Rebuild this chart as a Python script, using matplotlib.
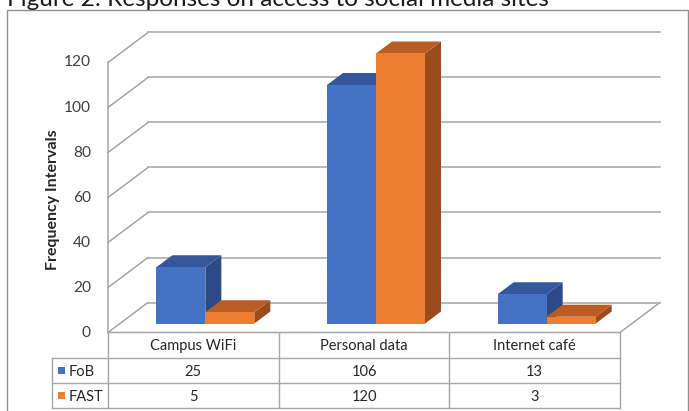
import matplotlib

matplotlib.use("Agg")
import matplotlib.pyplot as plt
from matplotlib.patches import Polygon, Rectangle

categories = ["Campus WiFi", "Personal data", "Internet café"]
series_names = ["FoB", "FAST"]
fob = [25, 106, 13]
fast = [5, 120, 3]
y_ticks = [0, 20, 40, 60, 80, 100, 120]

W, H = 689, 411
FRONT = {"FoB": "#4472C4", "FAST": "#ED7D31"}
TOP = {"FoB": "#34579C", "FAST": "#B95D24"}
SIDE = {"FoB": "#2C4A86", "FAST": "#9A4C1D"}
GRID = "#A6A6A6"

plt.rcParams["font.family"] = ["Lato", "DejaVu Sans"]

fig = plt.figure(figsize=(W / 100, H / 100), dpi=100)
fig.patch.set_facecolor("white")
ax = fig.add_axes([0, 0, 1, 1])
ax.set_axis_off()

# data axes: x in category units, y in value units (0 sits at 332.5 px, 2.25 px per unit)
cat_px, x0_px, unit_px, y0_px = 170.67, 108, 2.25, 332.5
ax.set_xlim(-x0_px / cat_px, (W - x0_px) / cat_px)
ax.set_ylim((y0_px - H) / unit_px, y0_px / unit_px)

DX = 40 / cat_px      # full floor depth, category units
DY = 30 / unit_px     # full floor depth, value units
n = len(categories)


def fpx(x, y):
    """pixel (top-left origin) -> figure fraction"""
    return x / W, 1 - y / H


# back wall and side wall gridlines
for v in y_ticks:
    ax.plot([DX, n + DX], [v + DY, v + DY], color=GRID, lw=1.1, zorder=1)
    ax.plot([0, DX], [v, v + DY], color=GRID, lw=1.1, zorder=1)
    ax.text(-0.1, v, str(v), ha="right", va="center", fontsize=11.2, color="#404040")
ax.plot([0, 0], [0, y_ticks[-1]], color=GRID, lw=1.1, zorder=1)
# floor outline
ax.plot([0, n, n + DX], [0, 0, DY], color=GRID, lw=1.1, zorder=1)

# 3D columns
z0, depth, w = 0.3, 0.4, 49 / cat_px
for s, (name, vals) in enumerate(zip(series_names, [fob, fast])):
    for i, v in enumerate(vals):
        xl = i + 0.5 - w + s * w + z0 * DX
        yb = z0 * DY
        dx, dy = depth * DX, depth * DY
        z = 3 + i * 2 + s * 0.5
        ax.add_patch(Polygon([(xl + w, yb), (xl + w, yb + v), (xl + w + dx, yb + v + dy),
                              (xl + w + dx, yb + dy)], closed=True, fc=SIDE[name], ec="none", zorder=z))
        ax.add_patch(Polygon([(xl, yb + v), (xl + w, yb + v), (xl + w + dx, yb + v + dy),
                              (xl + dx, yb + v + dy)], closed=True, fc=TOP[name], ec="none", zorder=z))
        ax.add_patch(Rectangle((xl, yb), w, v, fc=FRONT[name], ec="none", zorder=z))

ax.text(-0.322, 59, "Frequency Intervals", rotation=90, ha="center", va="center",
        fontsize=11.5, fontweight="bold", color="#262626")

# data table below the floor
col_x = [108 + k * cat_px for k in range(n + 1)]
row_y = [332.5, 358, 383, 408]
tl = dict(color=GRID, lw=1.0, transform=fig.transFigure)
for cx in col_x:
    ax.plot(*zip(fpx(cx, row_y[0]), fpx(cx, row_y[-1])), **tl)
ax.plot(*zip(fpx(52, row_y[1]), fpx(52, row_y[-1])), **tl)
for ry in row_y[1:]:
    ax.plot(*zip(fpx(52, ry), fpx(col_x[-1], ry)), **tl)

for k, cat in enumerate(categories):
    cx = (col_x[k] + col_x[k + 1]) / 2
    fig.text(*fpx(cx, (row_y[0] + row_y[1]) / 2 + 1), cat, ha="center", va="center",
             fontsize=10.5, color="#262626")
    for r, vals in enumerate([fob, fast]):
        fig.text(*fpx(cx, (row_y[r + 1] + row_y[r + 2]) / 2 + 1), str(vals[k]),
                 ha="center", va="center", fontsize=10.5, color="#262626")
for r, name in enumerate(series_names):
    cy = (row_y[r + 1] + row_y[r + 2]) / 2
    fx, fy = fpx(58, cy + 3.5)
    fig.patches.append(Rectangle((fx, fy), 7 / W, 7 / H, fc=FRONT[name], ec="none",
                                 transform=fig.transFigure, figure=fig))
    fig.text(*fpx(69, cy + 1), name, ha="left", va="center", fontsize=10.5, color="#262626")

# chart frame and caption (clipped at the top edge, as in the source image)
fig.patches.append(Rectangle(fpx(7, 430), (688 - 7) / W, 420 / H, fill=False, ec="#8F8F8F",
                             lw=1.0, transform=fig.transFigure, figure=fig))
fig.text(*fpx(7, 6), "Figure 2: Responses on access to social media sites", ha="left",
         va="baseline", fontsize=17.5, color="#1a1a1a")

fig.savefig("out.png", dpi=100)
